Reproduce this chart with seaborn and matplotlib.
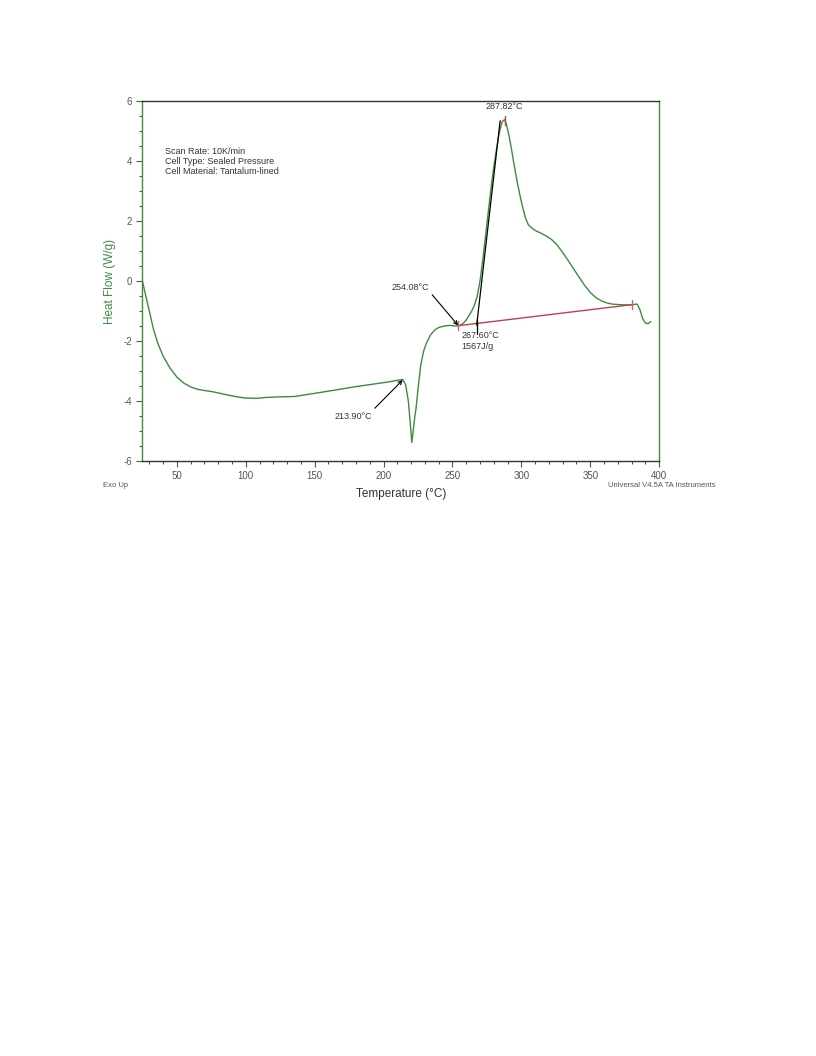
import matplotlib
matplotlib.use("Agg")
import matplotlib.pyplot as plt
import pandas as pd
import seaborn as sns
from matplotlib.ticker import MultipleLocator

# DSC trace
temperature = [25, 26, 28, 30, 33, 36, 40, 45, 50, 55, 60, 65, 70, 76, 82, 88,
               95, 100, 108, 115, 125, 135, 145, 156, 168, 180, 192, 204, 210,
               213.9, 216, 218, 219.5, 220.5, 221.5, 222.5, 223.7, 225, 227,
               229, 231, 234, 237, 240, 244, 248, 252, 254, 256, 258, 260, 262,
               264, 266, 268, 270, 272, 274, 276, 278, 280, 282, 284, 286,
               287.8, 289, 291, 293, 295, 297, 299, 301, 303, 305, 308, 311,
               314, 318, 322, 326, 330, 334, 338, 342, 346, 350, 354, 358, 362,
               366, 372, 378, 384, 386, 388, 390, 392, 394]
heat_flow = [0.0, -0.2, -0.6, -1.0, -1.6, -2.05, -2.5, -2.9, -3.2, -3.4, -3.53,
             -3.61, -3.65, -3.69, -3.75, -3.81, -3.87, -3.9, -3.91, -3.88,
             -3.86, -3.85, -3.78, -3.7, -3.61, -3.52, -3.44, -3.36, -3.31,
             -3.28, -3.45, -4.0, -4.8, -5.38, -5.0, -4.6, -4.2, -3.6, -2.8,
             -2.35, -2.08, -1.8, -1.64, -1.55, -1.5, -1.48, -1.5, -1.5, -1.47,
             -1.4, -1.3, -1.15, -1.0, -0.8, -0.5, 0.0, 0.7, 1.5, 2.3, 3.1, 3.8,
             4.4, 4.95, 5.3, 5.38, 5.25, 4.85, 4.35, 3.8, 3.3, 2.85, 2.45, 2.1,
             1.88, 1.75, 1.66, 1.6, 1.5, 1.38, 1.2, 0.95, 0.68, 0.4, 0.12,
             -0.15, -0.38, -0.55, -0.66, -0.73, -0.77, -0.79, -0.8, -0.77,
             -0.95, -1.25, -1.4, -1.42, -1.35]

# integration baseline and onset tangent
baseline_t = [254.08, 380]
baseline_hf = [-1.49, -0.79]
tangent_t = [267.6, 284.6]
tangent_hf = [-1.47, 5.34]

info_lines = ["Scan Rate: 10K/min", "Cell Type: Sealed Pressure",
              "Cell Material: Tantalum-lined"]

df = pd.DataFrame({"Temperature": temperature, "HeatFlow": heat_flow})

sns.set_style("ticks")
plt.rcParams["font.family"] = ["Liberation Sans", "DejaVu Sans"]
plt.rcParams["axes.unicode_minus"] = False

green = "#3f8a3f"
dark = "#333333"

fig = plt.figure(figsize=(8.16, 10.56), dpi=100)
ax = fig.add_axes([0.1745, 0.5634, 0.6333, 0.341])

sns.lineplot(data=df, x="Temperature", y="HeatFlow", ax=ax, color=green,
             linewidth=1.0, sort=False)

# baseline (red) with end ticks
ax.plot(baseline_t, baseline_hf, color="#c0404a", linewidth=1.0)
for t, h in zip(baseline_t, baseline_hf):
    ax.plot([t, t], [h - 0.15, h + 0.15], color="#d06070", linewidth=1.0)
# peak marker
ax.plot([287.82, 287.82], [5.2, 5.5], color="#c0404a", linewidth=1.0)
# tangent line and onset tick
ax.plot(tangent_t, tangent_hf, color="black", linewidth=0.9)
ax.plot([267.6, 267.6], [-1.25, -1.75], color="black", linewidth=0.9)

fs = 6.5
ax.text(287.82, 5.65, "287.82°C", ha="center", va="bottom", fontsize=fs, color=dark)
ax.text(256.7, -1.82, "267.60°C", ha="left", va="center", fontsize=fs, color=dark)
ax.text(256.7, -2.18, "1567J/g", ha="left", va="center", fontsize=fs, color=dark)
ax.annotate("254.08°C", xy=(254.08, -1.48), xytext=(233.3, -0.2),
            ha="right", va="center", fontsize=fs, color=dark,
            arrowprops=dict(arrowstyle="->", color="black", lw=0.8,
                            shrinkA=0, shrinkB=0, relpos=(1.0, 0.0)))
ax.annotate("213.90°C", xy=(213.9, -3.3), xytext=(191.3, -4.5),
            ha="right", va="center", fontsize=fs, color=dark,
            arrowprops=dict(arrowstyle="->", color="black", lw=0.8,
                            shrinkA=0, shrinkB=0, relpos=(1.0, 1.0)))

for i, line in enumerate(info_lines):
    ax.text(41.3, 4.32 - i * 0.34, line, ha="left", va="center",
            fontsize=fs, color=dark)

ax.set_xlim(25, 400)
ax.set_ylim(-6, 6)
ax.xaxis.set_major_locator(MultipleLocator(50))
ax.xaxis.set_minor_locator(MultipleLocator(10))
ax.yaxis.set_major_locator(MultipleLocator(2))
ax.yaxis.set_minor_locator(MultipleLocator(0.5))
ax.tick_params(which="both", direction="out", labelsize=7, colors="#555555")
ax.tick_params(which="major", length=4, width=0.8)
ax.tick_params(which="minor", length=2.5, width=0.8)

ax.spines["left"].set_color(green)
ax.spines["right"].set_color(green)
ax.spines["top"].set_color(dark)
ax.spines["bottom"].set_color(dark)
for s in ax.spines.values():
    s.set_visible(True)
    s.set_linewidth(1.0)

ax.set_xlabel("Temperature (°C)", fontsize=8.5, color=dark, labelpad=5)
ax.set_ylabel("Heat Flow (W/g)", fontsize=8.5, color=green, labelpad=5)

fig.text(0.126, 0.5398, "Exo Up", fontsize=5.5, color="#555555", va="center")
fig.text(0.877, 0.5398, "Universal V4.5A TA Instruments", fontsize=5.5,
         color="#555555", ha="right", va="center")

fig.savefig("out.png", dpi=100)
